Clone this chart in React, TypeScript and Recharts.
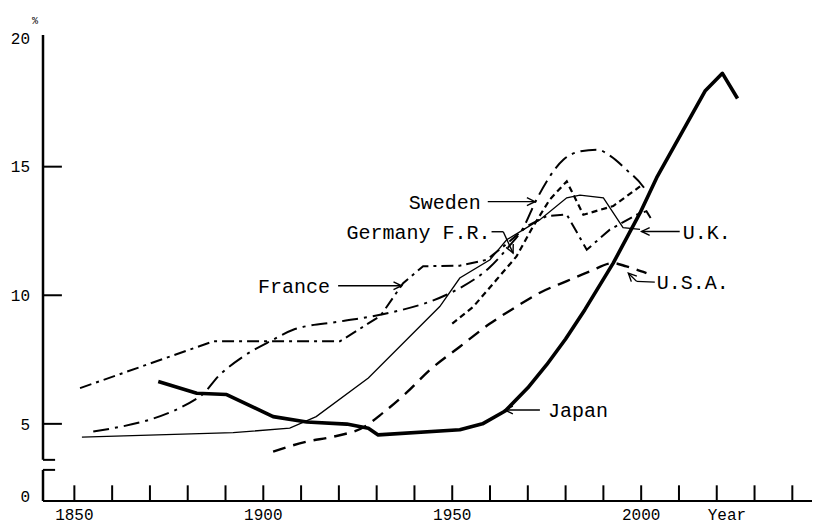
import { LineChart, Line, XAxis, YAxis, ReferenceLine } from "recharts";

// share of population, %
const japan = [
  { year: 1872.2, pct: 6.65 }, { year: 1882.4, pct: 6.19 }, { year: 1890.3, pct: 6.14 },
  { year: 1902.6, pct: 5.28 }, { year: 1911.5, pct: 5.07 }, { year: 1922.1, pct: 4.99 },
  { year: 1927.8, pct: 4.83 }, { year: 1930.4, pct: 4.57 }, { year: 1952, pct: 4.77 },
  { year: 1958, pct: 5.0 }, { year: 1964, pct: 5.5 }, { year: 1970, pct: 6.4 },
  { year: 1975, pct: 7.3 }, { year: 1980, pct: 8.3 }, { year: 1985.1, pct: 9.44 },
  { year: 1992.6, pct: 11.25 }, { year: 1999.7, pct: 13.2 }, { year: 2004.1, pct: 14.57 },
  { year: 2016.9, pct: 17.94 }, { year: 2021.5, pct: 18.63 }, { year: 2025.5, pct: 17.65 },
];

const uk = [
  { year: 1852, pct: 4.48 }, { year: 1892, pct: 4.66 }, { year: 1907, pct: 4.83 },
  { year: 1914, pct: 5.28 }, { year: 1927.8, pct: 6.78 }, { year: 1946.7, pct: 9.56 },
  { year: 1952, pct: 10.67 }, { year: 1960, pct: 11.38 }, { year: 1964.4, pct: 12.16 },
  { year: 1973.2, pct: 12.94 }, { year: 1980.3, pct: 13.79 }, { year: 1983.8, pct: 13.89 },
  { year: 1990, pct: 13.79 }, { year: 1995.2, pct: 12.63 }, { year: 1999.7, pct: 12.56 },
];

const usa = [
  { year: 1902.6, pct: 3.92 }, { year: 1911.5, pct: 4.31 }, { year: 1918.5, pct: 4.5 },
  { year: 1926.9, pct: 4.9 }, { year: 1931.7, pct: 5.43 }, { year: 1937.9, pct: 6.21 },
  { year: 1944.1, pct: 7.1 }, { year: 1952, pct: 8.0 }, { year: 1960, pct: 8.9 },
  { year: 1967, pct: 9.56 }, { year: 1973.2, pct: 10.1 }, { year: 1980.3, pct: 10.55 },
  { year: 1986.4, pct: 10.93 }, { year: 1992.6, pct: 11.25 }, { year: 1996.1, pct: 11.12 },
  { year: 2001.4, pct: 10.86 },
];

const germany = [
  { year: 1950, pct: 8.9 }, { year: 1955.6, pct: 9.56 }, { year: 1961.7, pct: 10.6 },
  { year: 1967, pct: 11.51 }, { year: 1971.4, pct: 12.68 }, { year: 1975.8, pct: 13.72 },
  { year: 1980.3, pct: 14.43 }, { year: 1984.7, pct: 13.13 }, { year: 1992.6, pct: 13.47 },
  { year: 1999.7, pct: 14.23 },
];

const sweden = [
  { year: 1855, pct: 4.7 }, { year: 1883.3, pct: 6.07 }, { year: 1888.5, pct: 6.91 },
  { year: 1894.7, pct: 7.62 }, { year: 1902.6, pct: 8.27 }, { year: 1907.9, pct: 8.66 },
  { year: 1920.3, pct: 8.98 }, { year: 1930.9, pct: 9.24 }, { year: 1948.5, pct: 10.02 },
  { year: 1952, pct: 10.28 }, { year: 1960, pct: 11.1 }, { year: 1965, pct: 11.9 },
  { year: 1968.7, pct: 12.6 }, { year: 1972.3, pct: 13.72 }, { year: 1979.4, pct: 15.27 },
  { year: 1984, pct: 15.6 }, { year: 1988.4, pct: 15.66 }, { year: 1992, pct: 15.4 },
  { year: 1996.1, pct: 14.88 }, { year: 2000.5, pct: 14.23 }, { year: 2001.4, pct: 14.04 },
];

const france = [
  { year: 1851.5, pct: 6.39 }, { year: 1886.8, pct: 8.21 }, { year: 1920.3, pct: 8.21 },
  { year: 1931, pct: 9.2 }, { year: 1937, pct: 10.47 }, { year: 1942.3, pct: 11.13 },
  { year: 1952, pct: 11.15 }, { year: 1959.1, pct: 11.38 }, { year: 1964.4, pct: 12.0 },
  { year: 1970, pct: 12.7 }, { year: 1975, pct: 13.08 }, { year: 1980.3, pct: 13.14 },
  { year: 1985.6, pct: 11.77 }, { year: 1991.7, pct: 12.55 }, { year: 1998.8, pct: 13.13 },
  { year: 2001.4, pct: 13.27 }, { year: 2002.5, pct: 13.0 },
];

const decadeTicks = [
  1850, 1860, 1870, 1880, 1890, 1900, 1910, 1920, 1930, 1940,
  1950, 1960, 1970, 1980, 1990, 2000, 2010, 2020, 2030, 2040,
];
const yearLabels = [1850, 1900, 1950, 2000];
const yearWordAt = 2022.7;
const pctTicks = [5, 10, 15];
const pctLabels = [5, 10, 15, 20];
const zeroLabelAt = 2.2;

const X_MIN = 1841.7;
const X_MAX = 2046;
const Y_MIN = 2;
const Y_MAX = 20.12;
const BREAK_HI = 3.6;
const BREAK_LO = 3.21;
const STUB_END = 1844.9;
const YTICK_END = 1846.7;
const XTICK_TOP = 2.61;

const FONT = "'Liberation Mono', 'DejaVu Sans Mono', monospace";
const labelStyle = { fill: "#000", fontSize: 20, fontFamily: FONT };

function Arrow(props: any) {
  const { x1, y1, x2, y2 } = props;
  const a = Math.atan2(y2 - y1, x2 - x1);
  const L = 9;
  const s = 0.45;
  const p1x = x2 - L * Math.cos(a - s);
  const p1y = y2 - L * Math.sin(a - s);
  const p2x = x2 - L * Math.cos(a + s);
  const p2y = y2 - L * Math.sin(a + s);
  return (
    <g>
      <line x1={x1} y1={y1} x2={x2} y2={y2} stroke="#000" strokeWidth={1.4} />
      <path
        d={`M${p1x},${p1y}L${x2},${y2}L${p2x},${p2y}`}
        fill="none"
        stroke="#000"
        strokeWidth={1.4}
      />
    </g>
  );
}

export default function App() {
  const seg = (ax: number, ay: number, bx: number, by: number, w = 2) => (
    <ReferenceLine
      key={`${ax}-${ay}-${bx}-${by}`}
      segment={[{ x: ax, y: ay }, { x: bx, y: by }]}
      stroke="#000"
      strokeWidth={w}
    />
  );

  return (
    <div style={{ position: "relative", width: 812, height: 517 }}>
      <span
        style={{
          position: "absolute",
          left: 24,
          top: 8,
          fontSize: 10,
          fontFamily: FONT,
        }}
      >
        %
      </span>
      <LineChart width={812} height={517} margin={{ top: 27, right: 5, left: 0, bottom: 0 }}>
        <XAxis
          type="number"
          dataKey="year"
          domain={[X_MIN, X_MAX]}
          allowDataOverflow
          ticks={[...yearLabels, yearWordAt]}
          tickFormatter={(v: number) => (v === yearWordAt ? "Year" : String(v))}
          tickLine={false}
          tickSize={0}
          tickMargin={8}
          height={24}
          axisLine={{ stroke: "#000", strokeWidth: 2 }}
          tick={{ fill: "#000", fontSize: 16, fontFamily: FONT }}
        />
        <YAxis
          type="number"
          domain={[Y_MIN, Y_MAX]}
          allowDataOverflow
          ticks={[zeroLabelAt, ...pctLabels]}
          tickFormatter={(v: number) => (v === zeroLabelAt ? "0" : String(v))}
          axisLine={false}
          tickLine={false}
          tickSize={0}
          tickMargin={13}
          width={35}
          tick={{ fill: "#000", fontSize: 16, fontFamily: FONT }}
        />

        {/* broken y axis */}
        {seg(X_MIN, BREAK_HI, X_MIN, Y_MAX, 2.5)}
        {seg(X_MIN, BREAK_HI, STUB_END, BREAK_HI)}
        {seg(X_MIN, Y_MIN, X_MIN, BREAK_LO, 2.5)}
        {seg(X_MIN, BREAK_LO, STUB_END, BREAK_LO)}
        {pctTicks.map((v) => seg(X_MIN, v, YTICK_END, v))}
        {decadeTicks.map((yr) => seg(yr, Y_MIN, yr, XTICK_TOP))}

        <Line data={france} dataKey="pct" type="linear" stroke="#000" strokeWidth={2}
          strokeDasharray="12 5 3 5" dot={false} isAnimationActive={false} />
        <Line data={sweden} dataKey="pct" type="monotone" stroke="#000" strokeWidth={2}
          strokeDasharray="16 6 3 6" dot={false} isAnimationActive={false} />
        <Line data={germany} dataKey="pct" type="linear" stroke="#000" strokeWidth={2.2}
          strokeDasharray="6 4" dot={false} isAnimationActive={false} />
        <Line data={usa} dataKey="pct" type="monotone" stroke="#000" strokeWidth={2.4}
          strokeDasharray="13 8" dot={false} isAnimationActive={false} />
        <Line data={uk} dataKey="pct" type="linear" stroke="#000" strokeWidth={1.3}
          dot={false} isAnimationActive={false} />
        <Line data={japan} dataKey="pct" type="linear" stroke="#000" strokeWidth={3.6}
          strokeLinejoin="round" dot={false} isAnimationActive={false} />

        {/* annotations */}
        <ReferenceLine
          segment={[{ x: 1959.4, y: 13.64 }, { x: 1971.9, y: 13.64 }]}
          shape={Arrow}
          label={{ value: "Sweden", position: "left", offset: 7, ...labelStyle }}
        />
        <ReferenceLine
          segment={[{ x: 1960.4, y: 12.47 }, { x: 1963.5, y: 12.47 }]}
          stroke="#000"
          strokeWidth={1.4}
          label={{ value: "Germany F.R.", position: "left", offset: 1, ...labelStyle }}
        />
        <ReferenceLine segment={[{ x: 1963.5, y: 12.47 }, { x: 1966.1, y: 11.64 }]} shape={Arrow} />
        <ReferenceLine
          segment={[{ x: 1919.8, y: 10.37 }, { x: 1936.6, y: 10.37 }]}
          shape={Arrow}
          label={{ value: "France", position: "left", offset: 8, ...labelStyle }}
        />
        <ReferenceLine
          segment={[{ x: 2010.2, y: 12.48 }, { x: 2000.1, y: 12.48 }]}
          shape={Arrow}
          label={{ value: "U.K.", position: "right", offset: 3, ...labelStyle }}
        />
        <ReferenceLine
          segment={[{ x: 2003.6, y: 10.51 }, { x: 1998.8, y: 10.54 }]}
          stroke="#000"
          strokeWidth={1.4}
          label={{ value: "U.S.A.", position: "right", offset: 2, ...labelStyle }}
        />
        <ReferenceLine segment={[{ x: 1998.8, y: 10.54 }, { x: 1996.6, y: 10.86 }]} shape={Arrow} />
        <ReferenceLine
          segment={[{ x: 1973.2, y: 5.54 }, { x: 1963.9, y: 5.54 }]}
          shape={Arrow}
          label={{ value: "Japan", position: "right", offset: 8, ...labelStyle }}
        />
      </LineChart>
    </div>
  );
}
